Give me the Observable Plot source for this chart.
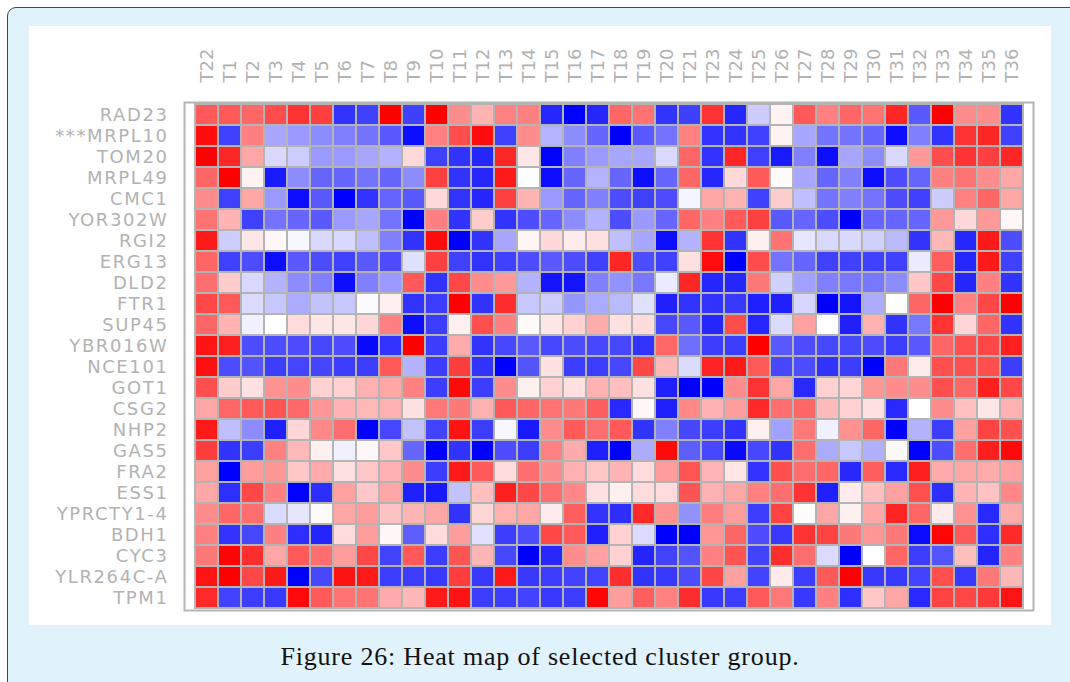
<!DOCTYPE html>
<html>
<head>
<meta charset="utf-8">
<script src="https://cdn.jsdelivr.net/npm/d3@7"></script>
<script src="https://cdn.jsdelivr.net/npm/@observablehq/plot@0.6"></script>
<style>
  html, body { margin: 0; padding: 0; background: #ffffff; overflow: hidden; }
  #box {
    position: absolute; left: 7px; top: 7px; width: 1100px; height: 720px;
    background: #e0f2fb; border: 1.5px solid #444; border-top-left-radius: 9px;
    box-sizing: border-box;
  }
  #panel { position: absolute; left: 29px; top: 26px; width: 1022px; height: 599px; background: #ffffff; }
  #panel svg { position: absolute; left: 0; top: 0; }
  #caption {
    position: absolute; left: 29px; width: 1022px; top: 644px;
    text-align: center; font-family: "Liberation Serif", serif; font-size: 26px; line-height: 25px;
    letter-spacing: 0.8px; color: #111;
  }
</style>
</head>
<body>
<div id="box"></div>
<div id="panel"></div>
<div id="caption">Figure 26: Heat map of selected cluster group.</div>
<script>
// Samples (columns) in cluster order
const samples = ["T22", "T1", "T2", "T3", "T4", "T5", "T6", "T7", "T8", "T9", "T10", "T11", "T12",
  "T13", "T14", "T15", "T16", "T17", "T18", "T19", "T20", "T21", "T23", "T24", "T25", "T26",
  "T27", "T28", "T29", "T30", "T31", "T32", "T33", "T34", "T35", "T36"];

// Genes (rows), top to bottom
const genes = ["RAD23", "***MRPL10", "TOM20", "MRPL49", "CMC1", "YOR302W", "RGI2", "ERG13", "DLD2",
  "FTR1", "SUP45", "YBR016W", "NCE101", "GOT1", "CSG2", "NHP2", "GAS5", "FRA2", "ESS1",
  "YPRCTY1-4", "BDH1", "CYC3", "YLR264C-A", "TPM1"];

// Relative expression per gene, one entry per sample (-10 = strongly down, +10 = strongly up)
const levels = [
  [6.5, 6.5, 6, 7, 8, 7.5, -8, -7.5, 10, -7.5, 10, 4.5, 3, 5, 5, -8.5, -10, -8.5, 6, 5.5, -8, -7.5, 8, -8.5, -2, 0.5, 6.5, 5, 6, 5.5, 8.5, -6.5, 10, 4.5, 4.5, -8],
  [9.5, -7.5, 5, -3.5, -4, -4.5, -5, -5.5, -6.5, -9.5, 5, 7, 9.5, -7.5, 4.5, -3, -4.5, -6, -10, -6.5, -5.5, 5, -8, -8, -7.5, 0.5, -3.5, -5.5, -5.5, -6, -9.5, -5, -8, 8, 8.5, -7.5],
  [10, 8.5, 3.5, -1.5, -2, -4, -4, -3.5, -3, 1.5, -7.5, -8, -8.5, 8.5, 1, -10, -5, -4, -3.5, -3.5, -1.5, 6, -8, 8.5, -7.5, -9, -5, -9.5, -3.5, -4.5, -1.5, 4, 7, 8, 7.5, 8.5],
  [6, 10, 0.5, -9, -4.5, -6, -6, -5.5, -6, -4.5, 7.5, -8, -8.5, 9, 0, -9.5, -6, -3, -6, -9.5, -6, 6, -8.5, 1.5, 6.5, 0.2, -3.5, -6, -5, -9.5, -7, -6, 5, 5.5, 4.5, 3.5],
  [4.5, -7.5, 3.5, -4, -9.5, -6.5, -10, -8, -6, -6.5, 1.5, -8, -8.5, 7.5, 3, -4, -6, -5, -7, -7.5, -7, -0.4, 3.5, 3, -7.5, 2, -2.5, -5.5, -5, -5.5, -7, -7.5, -2, 5, 6, 3.5],
  [5.5, 3, -7.5, -5.5, -6, -6.5, -4, -3.5, -5.5, -10, 5, -8, 2, -8, -7, -6, -4.5, -3, -7, -4, -6, 6, 5, 6.5, 7.5, -6.5, -6, -7, -10, -6, -6, -6, 4, 1.5, 4, 0.3],
  [9, -2, 1, 0.3, -0.3, -1.5, -1.5, -2.5, -5, -8, 9.5, -10, -8, -3.5, 0.4, 1.5, 0.8, 1.2, -2.5, -3.5, -9.5, -3, 8, -8, 0.6, 5.5, -1, -1.5, -1.5, -1.8, -2.7, -8, 2.8, -8.5, 9, -7],
  [6, -7.5, -7, -9.5, -6.5, -7, -7.5, -6.5, -7, -1.2, 7.5, -7.5, -8, -7.5, -7, -6.5, -7, -7.5, 8.5, -7, -7.5, 1.2, 9.5, -10, 7, -5.5, -6, -7.5, -7.5, -7.5, -7.5, -0.8, 6.3, -8.5, 9, -7.5],
  [5.7, 2, -1.5, -3, -4.5, -5, -9.5, -5, -4, 6.5, -8, 7.2, 4.5, 4, -3, -9.2, -9.2, -5, -4.3, -5.3, -0.8, 8.5, -8.5, -8.5, 5.3, -1.8, -3.7, -5, -5.3, -5.3, -4.5, 2.2, 7.2, -8.5, 5, -8],
  [7.2, 6.5, -1.4, -2.2, -3.3, -2.4, -2.2, -0.2, 0.6, -8, -7.6, 10, -8, 8.2, -2.2, -2, -4.1, -3.3, -2.7, -1.2, -8.8, -8, -8, -7.8, -8.8, -8.8, -1.6, -10, -9.2, -3.3, 0, 6, 10, 5, 7.2, 10],
  [6, 3, -0.6, 0, 1.4, 1, 1, 1.6, 5, -9.5, -7.6, 0.6, 6.9, 5, 0.2, 1, 1.8, 3.3, 1.2, 1.4, -7.2, -6.5, -8.5, 7, -8.5, -1.4, 3.7, 0, -8.8, 3.1, -8, -5.3, 8, 1.6, 6, -8],
  [9.2, 8.8, -7, -7, -7, -7.2, -7, -9.6, -8, 10, -7.6, 3.3, -8, -7.2, -6.5, -7.2, -7, -7.2, -7.2, -8, 6, -5.7, -7.6, -7.6, 10, -6.5, -7, -7.2, -7.2, -7, -7.6, -6.5, 6, 6.9, 7.2, 8.8],
  [9.4, -7, -6.7, -7.6, -7.3, -7.3, -7.6, -7.6, 6.5, -3, -7.6, 7.6, -8, -10, -6.7, 1.2, -7.6, -7.6, -7.2, 7.2, 2.8, -1.4, 8.6, 9, 6.5, -7.2, -7, -8, -7.6, -10, 5.3, 0.8, 6.9, 6.9, 6.9, -7.6],
  [6.9, 2, 1.2, 4.3, 4.5, 1.8, 1.8, 3.1, 3.5, 5, -7.6, 9.6, -7.6, 4.5, 0.6, 1.8, 1.2, 3, 2.5, 1.2, -8.8, -10, -10, 4.5, 8, 3.5, -8.4, 1.8, 1.6, 4.1, 4.5, 4.5, 6.9, 6, 8.8, 7.2],
  [3.5, 6, 6.5, 6.7, 5.9, 4.1, 3, 2.8, 3.1, 1.2, 5.3, 5.3, 3.1, 6.5, 6, 5.5, 5.3, 6.3, -8.4, 0.3, -8.8, 4.7, 3.1, 3.9, 8.4, 5.7, 6, 2.7, 1.8, 1.2, -8.4, 0, 4.5, 2.5, 1, 3.1],
  [9, -2.5, -4.5, -8.8, 1.6, 4.7, 5.7, -10, -7.2, -2.4, -7.4, 9.2, -7.6, -0.3, -9, 4.5, 6.5, 5.7, 6.5, -8, -5, -7.2, -7.6, -8, 0.6, -3.7, 5.3, -0.6, 4.3, 6, -10, -3, -7.6, 3.7, 7.4, 6.9],
  [7.6, -8, -7.6, 5, 2.8, 0.6, -0.6, 0.3, 2.2, -6, -10, -8, -10, -7, -7.6, 5, 3.3, -8.8, -10, -3.3, 9.6, -6.3, -7.2, -9.6, -7.2, -8, 5.7, -3.3, -2.2, -3.1, 0.2, -10, -7, 5.7, 8.8, 9.6],
  [3.7, -10, 3.9, 4.1, 2.2, 3.3, 1.2, 2.2, 3.1, 4.5, -7.6, 9, 6.5, 1.4, 5.7, 4.5, 3.1, 2.2, 2.9, 1.4, 3.9, 6.7, 2.9, 1, -8, 6.9, 5.7, 6, -8.4, 6.3, -8.4, 8.8, 3.3, 3.5, 3.3, 3.7],
  [3.5, -8.2, 7.2, 5, -10, -8.2, 3.7, 2.2, 3.5, -8.8, -9, -2.4, 2.5, 8.8, 7.2, 5.7, 4.7, 1.2, 0.6, 1.4, 1.4, 6.7, 3.1, 3.5, 5, 5.7, 8, -8.8, 0.8, 2.5, 3.7, 6.9, -8.2, 2.9, 2.4, 4.7],
  [4.5, 6, 5.7, -1.4, -1, 0.2, 3.5, 3.9, 2.4, 2.9, 3.5, -8, 1.6, 3.1, 3.5, 0.8, 6.3, -8, -8.2, 8.4, 4.3, -4.3, 5.1, 3.9, -7.6, 7.4, 0.1, 3.5, 0.6, 3.5, 8.6, 6, 0.8, 4.3, -8.4, 3.3],
  [5, -8, -7.2, 5, -8.2, -8.6, 1.4, 3.9, 0.3, -6.3, 1.4, 3.9, -1.2, -7.6, -7, 7.2, 6.5, -8.8, 1.8, -1.4, -10, -10, 4.1, 6, -7, -7.8, 8, 7.4, 5.3, 4.1, 5.3, -9.6, 9.8, 6.5, -8.2, 8.4],
  [5.3, 9.8, 8.2, 3.5, 6.5, 5.7, 3.9, 7.2, -7.4, 6.5, -7.6, 6.7, 2.9, -7.2, -10, -8.4, 4.5, 3.7, 1.8, -8.6, -7.4, -6.7, 5, 6.7, -7.4, 8.2, 5.7, -1.4, -10, 0, 6, -7.6, -6.7, 2.5, -8.6, 5],
  [9.2, 10, 7.2, 9, -10, -7.2, 9.2, 9, -7.6, -7.6, -7.8, 7.6, -7.8, 9, -7.8, -7.6, -7.4, -7.4, 8.2, -8, -7.8, -7, 7.2, 3.7, -7.4, 0.8, -7.6, 6.5, 10, -7.8, -7.8, -7.4, 6.9, -7.8, 5.3, 2.8],
  [8.4, -7.4, -7.6, -7.8, 9.6, 6.5, 5.5, 5.5, 3.3, 2.8, 9, 9.2, -7.6, -7.6, -7.4, -7.8, -7.6, 9.8, 3.9, 6.3, 5, 8.2, -7.8, -7.6, 6.5, 5.3, -7.8, 5, -8.2, 2.2, 3.5, -8.4, 7.4, 7.2, 7.8, 9.2]
];

// Long format table for the cell mark
const cells = genes.flatMap((gene, i) =>
  samples.map((sample, j) => ({gene, sample, value: levels[i][j]}))
);

const gridStroke = "#b4b4b4";

const chart = Plot.plot({
  width: 1022,
  height: 599,
  marginLeft: 155,
  marginTop: 76,
  marginRight: 18,
  marginBottom: 15,
  style: {
    background: "transparent",
    fontFamily: "'DejaVu Sans', sans-serif",
    fontSize: "18px",
    color: "#b2b2b2"
  },
  x: {domain: samples, padding: 0, axis: null},
  y: {domain: genes, padding: 0, axis: null},
  color: {
    type: "linear",
    domain: [-10, 0, 10],
    range: ["#0000ff", "#ffffff", "#ff0000"],
    interpolate: "rgb",
    clamp: true
  },
  marks: [
    Plot.cell(cells, {x: "sample", y: "gene", fill: "value", stroke: gridStroke, strokeWidth: 2}),
    Plot.frame({stroke: gridStroke, strokeWidth: 2}),
    Plot.axisX({anchor: "top", tickSize: 0, tickPadding: 20, tickRotate: -90, label: null}),
    Plot.axisY({anchor: "left", tickSize: 0, tickPadding: 16, label: null})
  ]
});

// Row labels are set a little wider apart
chart.querySelectorAll('[aria-label="y-axis tick label"] text').forEach(t => {
  t.style.letterSpacing = "1.6px";
});

document.getElementById("panel").appendChild(chart);
</script>
</body>
</html>
